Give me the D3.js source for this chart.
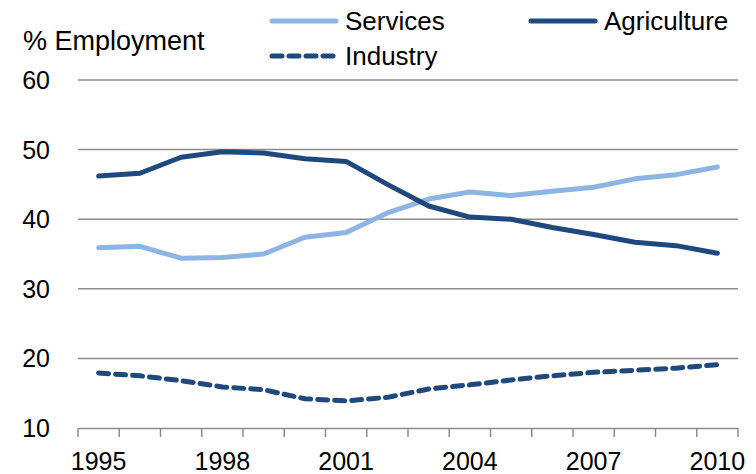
<!DOCTYPE html>
<html>
<head>
<meta charset="utf-8">
<script src="https://cdn.jsdelivr.net/npm/d3@7"></script>
<style>
  body { margin: 0; background: #fff; }
  text { font-family: "Liberation Sans Narrow", "Liberation Sans", sans-serif; fill: #000; }
</style>
</head>
<body>
<svg id="chart"></svg>
<script>
  // Data
  var years = d3.range(1995, 2011)
  var services = [35.9, 36.1, 34.4, 34.5, 35.0, 37.4, 38.1, 40.9, 42.9, 43.9, 43.4, 44.0, 44.6, 45.8, 46.4, 47.5]
  var agriculture = [46.2, 46.6, 48.9, 49.7, 49.5, 48.7, 48.3, 45.0, 41.9, 40.3, 40.0, 38.8, 37.8, 36.7, 36.2, 35.1]
  var industry = [17.9, 17.5, 16.8, 15.9, 15.5, 14.2, 13.9, 14.4, 15.6, 16.2, 16.9, 17.5, 18.0, 18.3, 18.6, 19.1]
  var yTicks = [10, 20, 30, 40, 50, 60]
  var xLabels = [1995, 1998, 2001, 2004, 2007, 2010]

  var WIDTH = 756
  var HEIGHT = 474
  var margin = { left: 78, right: 18, top: 80, bottom: 46 }
  var LIGHT = '#8db4e2'
  var DARK = '#1f497d'
  var FONT = '25px'

  var svg = d3.select('#chart')
    .attr('width', WIDTH)
    .attr('height', HEIGHT)

  var x = d3.scaleBand()
    .domain(years)
    .range([margin.left, WIDTH - margin.right])

  var y = d3.scaleLinear()
    .domain([10, 60])
    .range([HEIGHT - margin.bottom, margin.top])

  // Gridlines
  svg.append('g')
    .selectAll('line')
    .data(yTicks.slice(1))
    .enter().append('line')
    .attr('x1', margin.left)
    .attr('x2', WIDTH - margin.right)
    .attr('y1', function (d) { return y(d) })
    .attr('y2', function (d) { return y(d) })
    .attr('stroke', '#8c8c8c')
    .attr('stroke-width', 1.5)

  // Y labels
  svg.append('g')
    .selectAll('text')
    .data(yTicks)
    .enter().append('text')
    .attr('x', 50)
    .attr('y', function (d) { return y(d) + 9 })
    .attr('text-anchor', 'end')
    .style('font-size', FONT)
    .text(function (d) { return d })

  // X axis
  var xAxis = d3.axisBottom(x)
    .tickValues(xLabels)
    .tickSize(0)
    .tickPadding(24)
  var gx = svg.append('g')
    .attr('transform', 'translate(0,' + y(10) + ')')
    .call(xAxis)
  gx.select('.domain').attr('stroke', '#8c8c8c').attr('stroke-width', 1.5)
  gx.selectAll('text').style('font-size', FONT).attr('fill', '#000')
    .style('font-family', '"Liberation Sans Narrow", "Liberation Sans", sans-serif')

  // Category boundary tick marks
  var edges = years.map(function (d) { return x(d) }).concat([x.range()[1]])
  svg.append('g')
    .selectAll('line')
    .data(edges)
    .enter().append('line')
    .attr('x1', function (d) { return d })
    .attr('x2', function (d) { return d })
    .attr('y1', y(10))
    .attr('y2', y(10) + 9)
    .attr('stroke', '#8c8c8c')
    .attr('stroke-width', 1.5)

  var line = d3.line()
    .x(function (d, i) { return x(years[i]) + x.bandwidth() / 2 })
    .y(function (d) { return y(d) })

  var series = [
    { name: 'Services', values: services, color: LIGHT, dash: null },
    { name: 'Agriculture', values: agriculture, color: DARK, dash: null },
    { name: 'Industry', values: industry, color: DARK, dash: '10,7' }
  ]

  svg.append('g')
    .selectAll('path')
    .data(series)
    .enter().append('path')
    .attr('d', function (d) { return line(d.values) })
    .attr('fill', 'none')
    .attr('stroke', function (d) { return d.color })
    .attr('stroke-width', 5)
    .attr('stroke-linejoin', 'round')
    .attr('stroke-linecap', 'round')
    .attr('stroke-dasharray', function (d) { return d.dash })

  // Title
  svg.append('text')
    .attr('x', 23)
    .attr('y', 50)
    .style('font-size', '27px')
    .text('% Employment')

  // Legend
  var legendPos = [
    { x: 272, y: 21 },
    { x: 531, y: 21 },
    { x: 272, y: 56 }
  ]
  var legend = svg.append('g')
    .selectAll('g')
    .data(series)
    .enter().append('g')
    .attr('transform', function (d, i) { return 'translate(' + legendPos[i].x + ',' + legendPos[i].y + ')' })

  legend.append('line')
    .attr('x1', 0)
    .attr('x2', 64)
    .attr('stroke', function (d) { return d.color })
    .attr('stroke-width', 5)
    .attr('stroke-linecap', 'round')
    .attr('stroke-dasharray', function (d) { return d.dash })

  legend.append('text')
    .attr('x', 73)
    .attr('y', 9)
    .style('font-size', '26px')
    .text(function (d) { return d.name })
</script>
</body>
</html>
